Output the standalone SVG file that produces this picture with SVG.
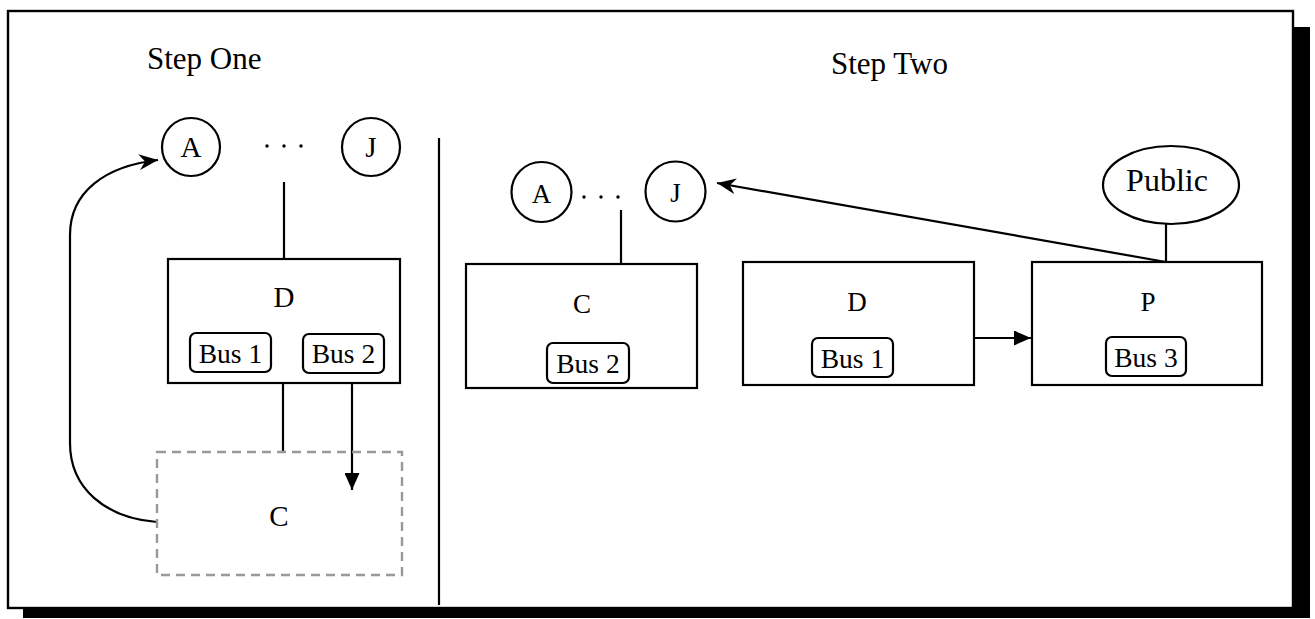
<svg xmlns="http://www.w3.org/2000/svg" width="1315" height="619" viewBox="0 0 1315 619">
  <style>
    text { font-family: 'Liberation Serif', 'Times New Roman', serif; fill: #000; text-anchor: middle; }
    .title { font-size: 31px; text-anchor: start; }
    .lbl1 { font-size: 29px; }
    .lbl2 { font-size: 27px; }
    .bus { font-size: 27.5px; }
    .pub { font-size: 32px; }
    .box { fill: #fff; stroke: #000; stroke-width: 2.2; }
    .bus-box { fill: #fff; stroke: #000; stroke-width: 2.2; }
    .dash { fill: none; stroke: #999; stroke-width: 2.4; stroke-dasharray: 9 6; }
    .ln { fill: none; stroke: #000; stroke-width: 2.2; }
  </style>
  <defs>
    <marker id="stealth" markerUnits="userSpaceOnUse" markerWidth="20" markerHeight="16" refX="19" refY="8" orient="auto">
      <path d="M0,0 L19,8 L0,16 L6,8 z" fill="#000"/>
    </marker>
    <marker id="tri" markerUnits="userSpaceOnUse" markerWidth="17" markerHeight="15" refX="17" refY="7.5" orient="auto">
      <path d="M0,0 L17,7.5 L0,15 z" fill="#000"/>
    </marker>
  </defs>

  <rect width="1315" height="619" fill="#fff"/>

  <!-- frame with drop shadow -->
  <g id="frame">
    <rect x="23" y="608" width="1287" height="10" fill="#000"/>
    <rect x="1293" y="27" width="17" height="591" fill="#000"/>
    <rect x="8" y="11" width="1285" height="597" fill="none" stroke="#000" stroke-width="2.4"/>
    <line x1="439" y1="138" x2="439" y2="605" stroke="#000" stroke-width="2.2"/>
  </g>

  <text class="title" x="147" y="69">Step One</text>
  <text class="title" x="831" y="74">Step Two</text>

  <!-- connectors -->
  <g id="connectors">
    <line class="ln" x1="284" y1="182" x2="284" y2="259"/>
    <line class="ln" x1="283" y1="383" x2="283" y2="452"/>
    <line class="ln" x1="352" y1="384" x2="352" y2="490" marker-end="url(#tri)"/>
    <path class="ln" d="M157,522 C105,518 70,488 70,443 L70,235 C70,192 105,166 158,160" marker-end="url(#stealth)"/>
    <line class="ln" x1="621" y1="210" x2="621" y2="264"/>
    <line class="ln" x1="974" y1="338" x2="1031" y2="338" marker-end="url(#tri)"/>
    <line class="ln" x1="1166" y1="224" x2="1166" y2="262"/>
    <line class="ln" x1="1166" y1="262" x2="717" y2="183" marker-end="url(#stealth)"/>
  </g>

  <!-- step one -->
  <g id="s1-a">
    <circle class="box" cx="191" cy="147" r="29"/>
    <text class="lbl1" x="191" y="156.5">A</text>
  </g>
  <g id="s1-dots" fill="#000">
    <circle cx="267" cy="146" r="1.7"/>
    <circle cx="284" cy="146" r="1.7"/>
    <circle cx="301" cy="146" r="1.7"/>
  </g>
  <g id="s1-j">
    <circle class="box" cx="371" cy="147" r="29"/>
    <text class="lbl1" x="371" y="156.5">J</text>
  </g>
  <g id="s1-d">
    <rect class="box" x="168" y="259" width="232" height="124"/>
    <text class="lbl1" x="284" y="307">D</text>
    <rect class="bus-box" x="190" y="333" width="81" height="39" rx="6"/>
    <text class="bus" x="230.5" y="363">Bus 1</text>
    <rect class="bus-box" x="303" y="334" width="81" height="39" rx="6"/>
    <text class="bus" x="343.5" y="363">Bus 2</text>
  </g>
  <g id="s1-c">
    <rect class="dash" x="157" y="452" width="245" height="123"/>
    <text class="lbl1" x="279" y="526">C</text>
  </g>

  <!-- step two -->
  <g id="s2-a">
    <circle class="box" cx="541.5" cy="192" r="30"/>
    <text class="lbl2" x="541.5" y="202.5">A</text>
  </g>
  <g id="s2-dots" fill="#000">
    <circle cx="584" cy="197" r="1.7"/>
    <circle cx="601" cy="197" r="1.7"/>
    <circle cx="618" cy="197" r="1.7"/>
  </g>
  <g id="s2-j">
    <circle class="box" cx="675.5" cy="191.5" r="30"/>
    <text class="lbl2" x="675.5" y="202">J</text>
  </g>
  <g id="s2-c">
    <rect class="box" x="466" y="264" width="231" height="124"/>
    <text class="lbl2" x="582" y="313">C</text>
    <rect class="bus-box" x="547" y="343" width="82" height="40" rx="6"/>
    <text class="bus" x="588" y="373">Bus 2</text>
  </g>
  <g id="s2-d">
    <rect class="box" x="743" y="262" width="231" height="123"/>
    <text class="lbl2" x="857" y="311">D</text>
    <rect class="bus-box" x="812" y="338" width="81" height="39" rx="6"/>
    <text class="bus" x="852.5" y="368">Bus 1</text>
  </g>
  <g id="s2-p">
    <rect class="box" x="1032" y="262" width="230" height="123"/>
    <text class="lbl2" x="1148" y="311">P</text>
    <rect class="bus-box" x="1106" y="337" width="80" height="39" rx="6"/>
    <text class="bus" x="1146" y="367">Bus 3</text>
  </g>
  <g id="s2-public">
    <ellipse class="box" cx="1171" cy="185" rx="68" ry="39"/>
    <text class="pub" x="1167" y="191">Public</text>
  </g>
</svg>
